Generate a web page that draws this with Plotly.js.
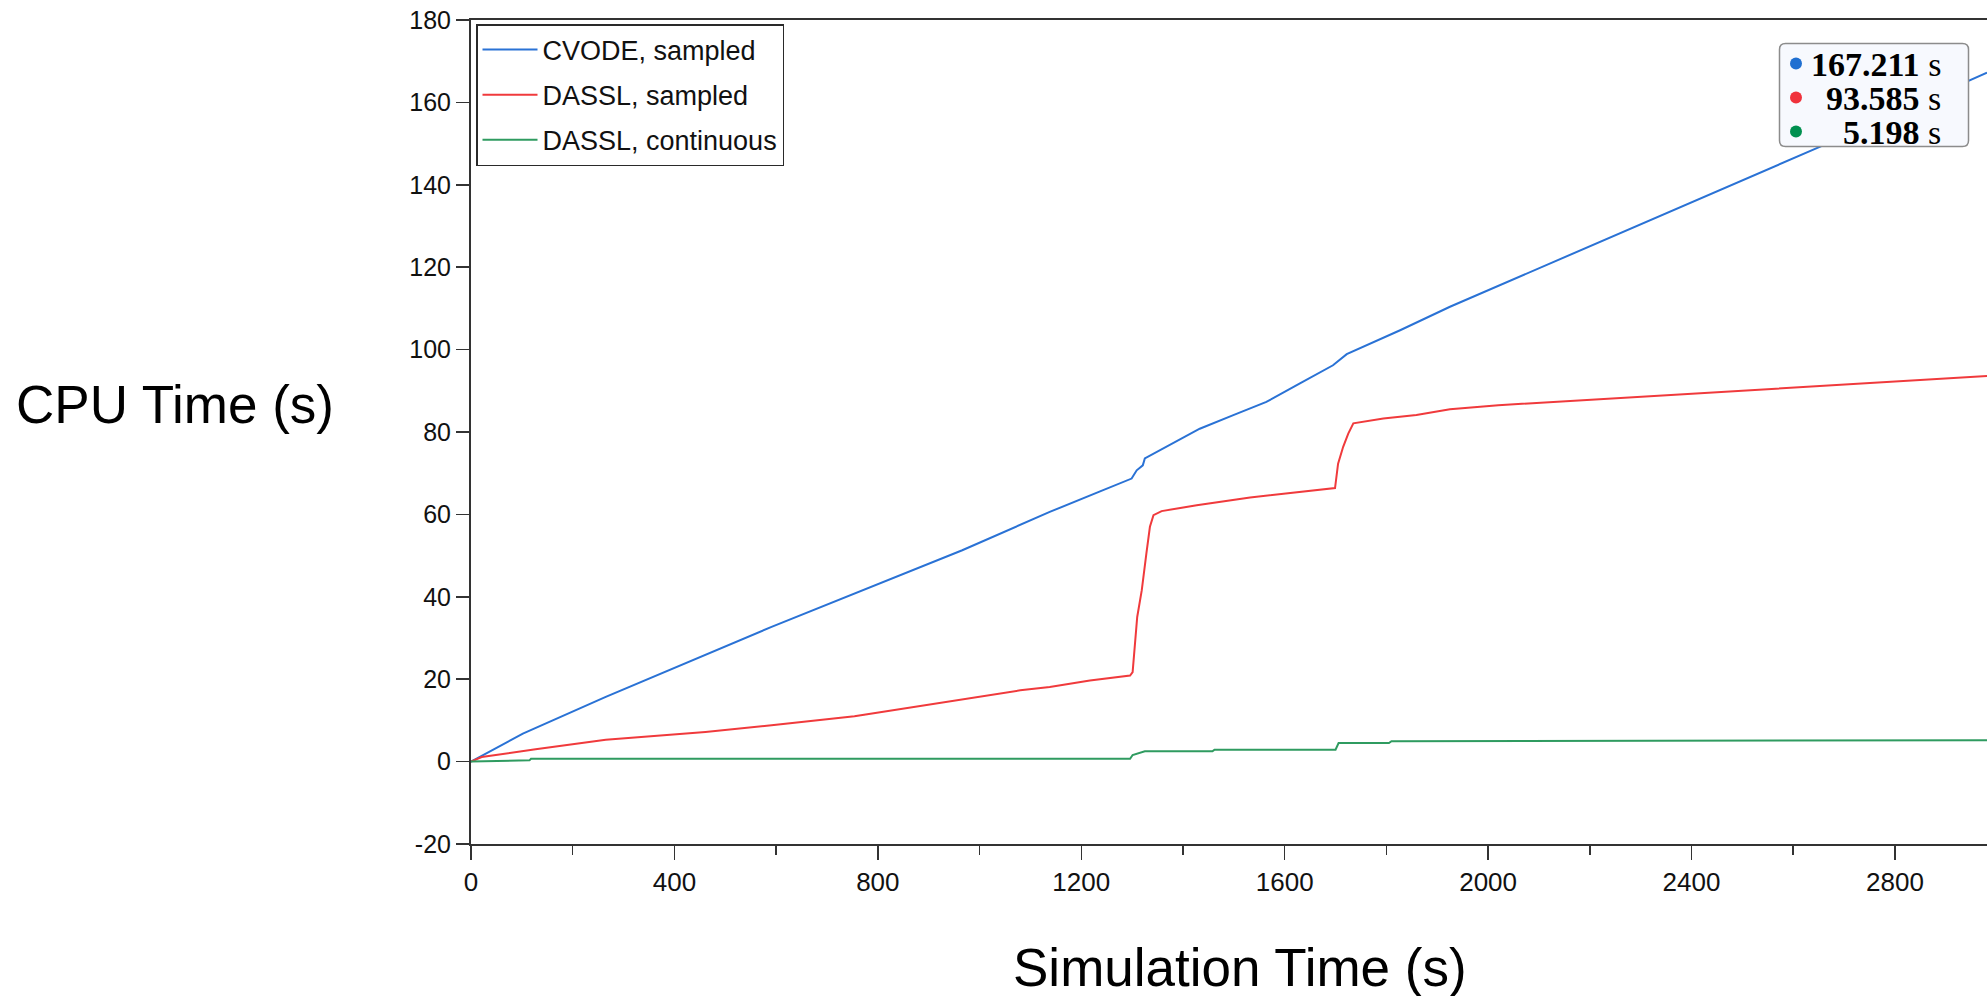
<!DOCTYPE html>
<html>
<head>
<meta charset="utf-8">
<script src="https://cdn.plot.ly/plotly-3.0.1.min.js"></script>
<style>
html,body{margin:0;padding:0;background:#fff;}
#chart{width:1987px;height:996px;}
</style>
</head>
<body>
<div id="chart"></div>
<script>
// ---- data ----
const seriesNames = ["CVODE, sampled", "DASSL, sampled", "DASSL, continuous"];

const cvodeX = [0, 102, 265, 591, 966, 1138, 1237, 1299, 1309, 1321, 1325, 1433, 1499, 1564, 1630, 1695, 1722, 1827, 1925, 2652, 2981];
const cvodeY = [0, 6.8, 15.7, 32.7, 51.3, 60.6, 65.6, 68.7, 70.7, 71.9, 73.6, 80.8, 84.1, 87.3, 91.8, 96.2, 98.9, 104.7, 110.4, 149.2, 167.211];

const dasslX = [0, 21, 127, 265, 461, 591, 754, 917, 1080, 1138, 1217, 1296, 1301, 1310, 1319, 1328, 1335, 1342, 1358, 1427, 1532, 1699, 1705, 1715, 1725, 1735, 1794, 1859, 1925, 2020, 2450, 2981];
const dasslY = [0, 1.1, 3.0, 5.3, 7.2, 8.8, 11.0, 14.1, 17.3, 18.1, 19.7, 20.9, 21.7, 35.1, 41.6, 50.5, 57.0, 59.8, 60.8, 62.2, 64.1, 66.4, 72.3, 76.4, 79.6, 82.1, 83.3, 84.1, 85.5, 86.5, 89.7, 93.585];

const contX = [0, 115, 118, 1296, 1301, 1312, 1325, 1458, 1462, 1700, 1706, 1805, 1810, 2981];
const contY = [0, 0.3, 0.7, 0.7, 1.6, 2.0, 2.5, 2.5, 2.9, 2.9, 4.5, 4.5, 4.95, 5.198];

const xTickVals = [0, 400, 800, 1200, 1600, 2000, 2400, 2800];
const yTickVals = [-20, 0, 20, 40, 60, 80, 100, 120, 140, 160, 180];
const xTitle = "Simulation Time (s)";
const yTitle = "CPU Time (s)";
const unit = "s";

// ---- styling ----
const lineColors = ["#2a72d5", "#f03a3c", "#2f9b60"];
const dotColors = ["#1f6fd1", "#f0323c", "#00904f"];
const sans = "Liberation Sans, Arial, sans-serif";
const serif = "Liberation Serif, Times New Roman, serif";

const W = 1987, H = 996;
const ML = 471, MT = 20, MB = 152, MR = 0;
const PW = W - ML - MR, PH = H - MT - MB;
function fx(p){ return (p - ML) / PW; }
function fy(p){ return 1 - (p - MT) / PH; }

const xs = [cvodeX, dasslX, contX];
const ys = [cvodeY, dasslY, contY];
const traces = xs.map((x, i) => ({
  type: "scatter", mode: "lines", x: x, y: ys[i], name: seriesNames[i],
  legendgroup: "g" + i,
  line: {color: lineColors[i], width: 2},
  hoverinfo: "skip"
}));

// hover-style value box
const boxL = fx(1779.5), boxR = fx(1968.5), boxT = fy(43.5), boxB = fy(146.5);
const rx = 6 / PW, ry = 6 / PH;
const boxPath = `M${boxL+rx},${boxT} L${boxR-rx},${boxT} Q${boxR},${boxT} ${boxR},${boxT-ry} L${boxR},${boxB+ry} Q${boxR},${boxB} ${boxR-rx},${boxB} L${boxL+rx},${boxB} Q${boxL},${boxB} ${boxL},${boxB+ry} L${boxL},${boxT-ry} Q${boxL},${boxT} ${boxL+rx},${boxT} Z`;

const shapes = [{
  type: "path", xref: "paper", yref: "paper", path: boxPath,
  fillcolor: "#f7f9fe", line: {color: "#8c8c8c", width: 1.5}, layer: "above"
}];
const rowY = [63.5, 97.5, 131.5];
const annotations = [];
ys.forEach((y, i) => {
  const last = y[y.length - 1];
  shapes.push({
    type: "circle", xref: "paper", yref: "paper",
    xsizemode: "pixel", ysizemode: "pixel",
    xanchor: fx(1796), yanchor: fy(rowY[i]),
    x0: -6, x1: 6, y0: -6, y1: 6,
    fillcolor: dotColors[i], line: {width: 0}, layer: "above"
  });
  annotations.push({
    xref: "paper", yref: "paper", x: fx(1943), y: fy(rowY[i] + 1),
    xanchor: "right", yanchor: "middle", showarrow: false,
    text: "<b>" + last.toFixed(3) + "</b> " + unit,
    font: {family: serif, size: 34, color: "#000"}
  });
});

annotations.push({
  xref: "paper", yref: "paper", x: fx(14), y: fy(405),
  xanchor: "left", yanchor: "middle", showarrow: false,
  text: yTitle, font: {family: sans, size: 53, color: "#000"}
});
annotations.push({
  xref: "paper", yref: "paper", x: fx(1240), y: fy(967),
  xanchor: "center", yanchor: "middle", showarrow: false,
  text: xTitle, font: {family: sans, size: 53, color: "#000"}
});

const layout = {
  width: W, height: H,
  margin: {l: ML, r: MR, t: MT, b: MB, pad: 0},
  paper_bgcolor: "#fff", plot_bgcolor: "#fff",
  showlegend: true,
  legend: {
    x: fx(476), y: fy(24), xanchor: "left", yanchor: "top",
    bgcolor: "#fff", bordercolor: "#2a2a2a", borderwidth: 1.5,
    font: {family: sans, size: 27, color: "#111"},
    traceorder: "grouped", tracegroupgap: 7, itemwidth: 55
  },
  xaxis: {
    range: [0, 2981], tickvals: xTickVals, ticktext: xTickVals.map(String),
    ticks: "outside", ticklen: 14, tickwidth: 1.5, tickcolor: "#333",
    minor: {dtick: 200, tick0: 0, ticks: "outside", ticklen: 9, tickwidth: 1.5, tickcolor: "#333"},
    showline: true, linecolor: "#333", linewidth: 2, mirror: true,
    showgrid: false, zeroline: false,
    tickfont: {family: sans, size: 26, color: "#111"}
  },
  yaxis: {
    range: [-20, 180], tickvals: yTickVals, ticktext: yTickVals.map(String),
    ticks: "outside", ticklen: 13, tickwidth: 1.5, tickcolor: "#333",
    showline: true, linecolor: "#333", linewidth: 2, mirror: false,
    showgrid: false, zeroline: false,
    tickfont: {family: sans, size: 25, color: "#111"}
  },
  shapes: shapes,
  annotations: annotations
};

Plotly.newPlot("chart", traces, layout, {displayModeBar: false, staticPlot: true});
</script>
</body>
</html>
